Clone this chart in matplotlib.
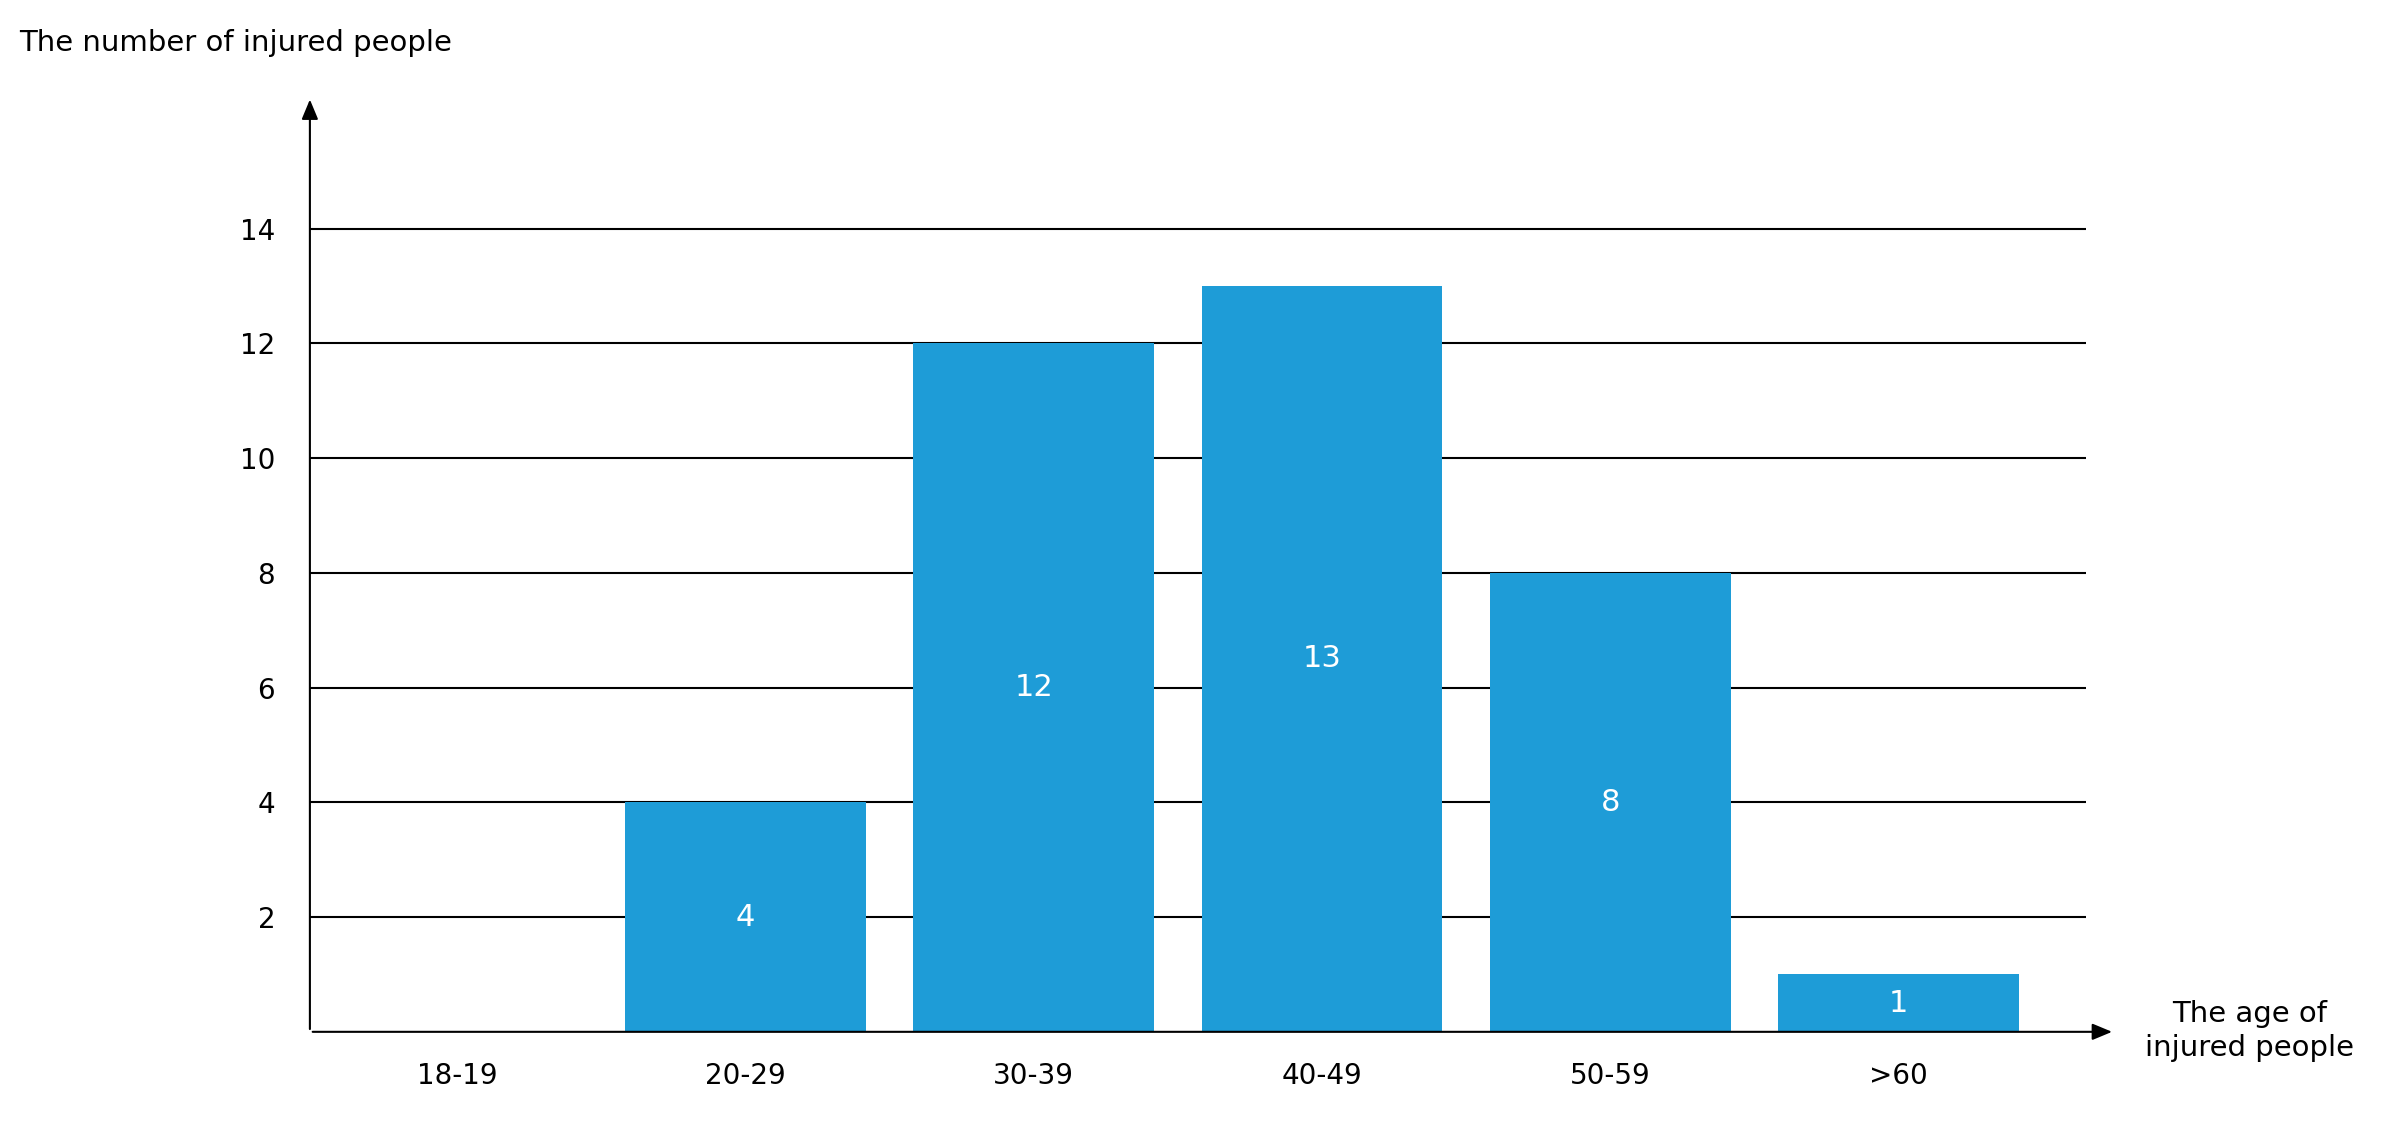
import matplotlib
matplotlib.use("Agg")
import matplotlib.pyplot as plt

categories = ["18-19", "20-29", "30-39", "40-49", "50-59", ">60"]
values = [0, 4, 12, 13, 8, 1]
yticks = [2, 4, 6, 8, 10, 12, 14]

fig = plt.figure(figsize=(24.06, 11.33), dpi=100)
ax = fig.add_axes([0.1288, 0.0893, 0.7382, 0.80])
x = list(range(len(categories)))
bars = ax.bar(x, values, width=0.835, color="#1E9CD7", zorder=3)
for xi, v in zip(x, values):
    if v > 0:
        ax.text(xi, v / 2, str(v), color="white", ha="center", va="center", fontsize=22, zorder=4)
ax.set_xlim(-0.51, 5.65)
ax.set_ylim(0, 15.8)
for t in yticks:
    ax.axhline(t, color="black", lw=1.5, zorder=1)
ax.set_yticks(yticks)
ax.set_xticks(x)
ax.set_xticklabels(categories)
ax.tick_params(axis="both", length=0, labelsize=20, pad=22)
ax.tick_params(axis="y", pad=25)
for s in ["top", "right", "left", "bottom"]:
    ax.spines[s].set_visible(False)
ax.annotate("", xy=(-0.51, 16.3), xytext=(-0.51, 0), xycoords="data",
            arrowprops=dict(arrowstyle="-|>,head_width=0.5,head_length=1.2", color="black", lw=1.5),
            annotation_clip=False, zorder=5)
ax.annotate("", xy=(5.75, 0), xytext=(-0.51, 0),
            arrowprops=dict(arrowstyle="-|>,head_width=0.5,head_length=1.2", color="black", lw=1.5),
            annotation_clip=False, zorder=5)
fig.text(0.008, 0.962, "The number of injured people", fontsize=21, ha="left", va="center")
fig.text(0.935, 0.09, "The age of\ninjured people", fontsize=21, ha="center", va="center", linespacing=1.3)
fig.savefig("out.png", dpi=100)
